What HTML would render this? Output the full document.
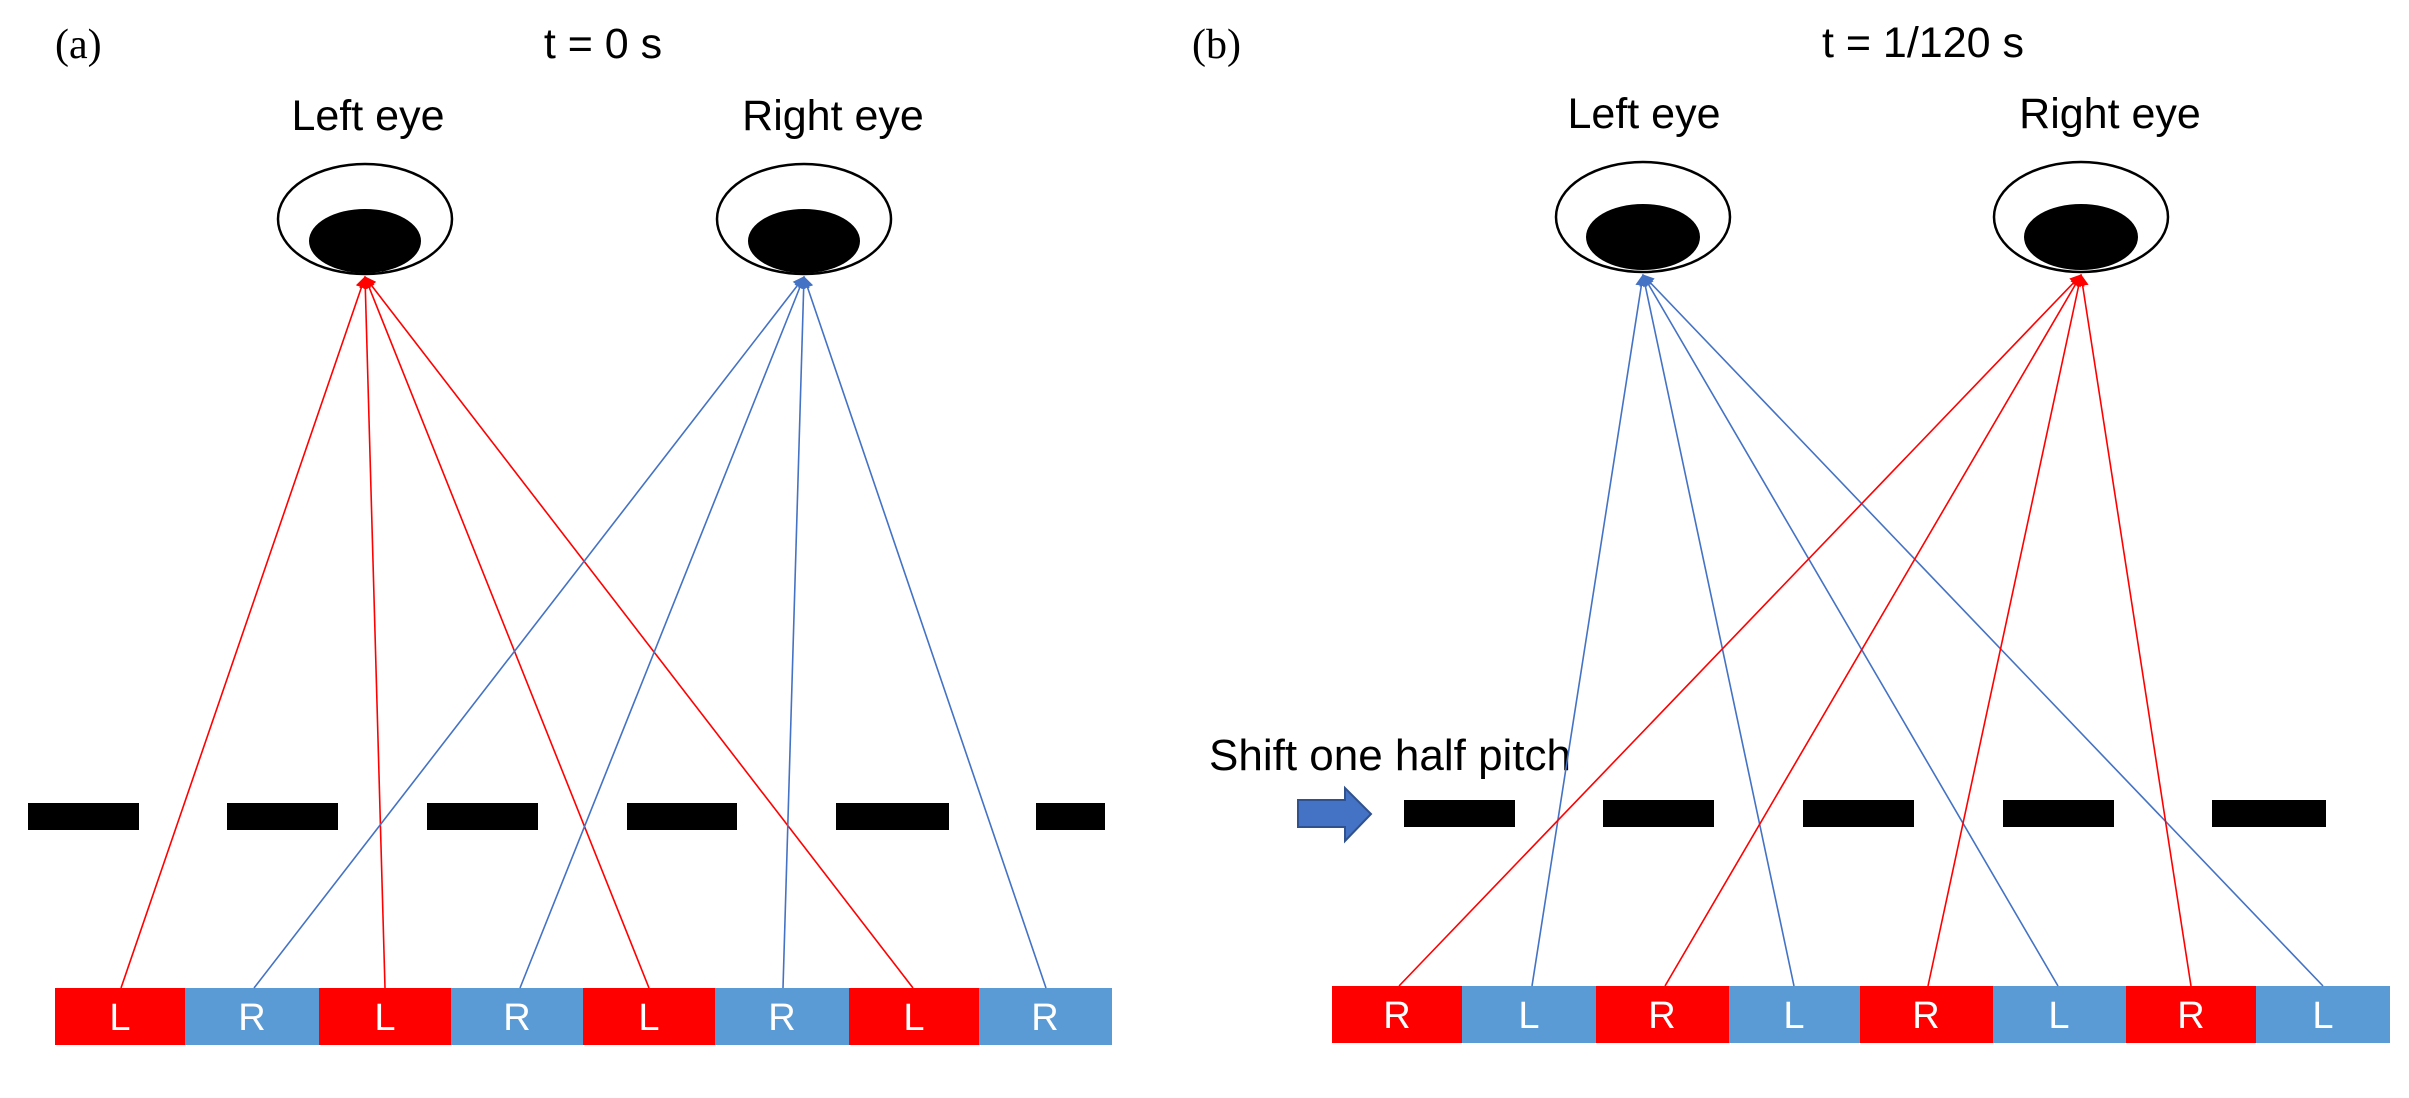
<!DOCTYPE html>
<html><head><meta charset="utf-8"><style>
html,body{margin:0;padding:0;background:#fff;}
svg{display:block;}
</style></head><body>
<svg width="2409" height="1098" viewBox="0 0 2409 1098" xmlns="http://www.w3.org/2000/svg">
<defs>
<marker id="mr" viewBox="0 0 10 10" refX="9" refY="5" markerWidth="12" markerHeight="12" markerUnits="userSpaceOnUse" orient="auto"><path d="M0,0 L10,5 L0,10 z" fill="#ff0000"/></marker>
<marker id="mb" viewBox="0 0 10 10" refX="9" refY="5" markerWidth="12" markerHeight="12" markerUnits="userSpaceOnUse" orient="auto"><path d="M0,0 L10,5 L0,10 z" fill="#4472c4"/></marker>
</defs>
<g font-family="Liberation Sans, Arial, sans-serif" fill="#000">
<text x="55" y="58" font-family="Liberation Serif, serif" font-size="42">(a)</text>
<text x="1192" y="58" font-family="Liberation Serif, serif" font-size="42">(b)</text>
<text x="603" y="58" font-size="43" text-anchor="middle">t = 0 s</text>
<text x="1923" y="57" font-size="43" text-anchor="middle">t = 1/120 s</text>
<text x="368" y="130" font-size="43" text-anchor="middle">Left eye</text>
<text x="833" y="130" font-size="43" text-anchor="middle">Right eye</text>
<text x="1644" y="128" font-size="43" text-anchor="middle">Left eye</text>
<text x="2110" y="128" font-size="43" text-anchor="middle">Right eye</text>
<text x="1209" y="770" font-size="44">Shift one half pitch</text>
</g>
<g stroke="#000" stroke-width="2.5" fill="#fff">
<ellipse cx="365" cy="219" rx="87" ry="55"/>
<ellipse cx="804" cy="219" rx="87" ry="55"/>
<ellipse cx="1643" cy="217" rx="87" ry="55"/>
<ellipse cx="2081" cy="217" rx="87" ry="55"/>
</g>
<g fill="#000">
<ellipse cx="365" cy="241" rx="56" ry="32"/>
<ellipse cx="804" cy="241" rx="56" ry="32"/>
<ellipse cx="1643" cy="237" rx="57" ry="33"/>
<ellipse cx="2081" cy="237" rx="57" ry="33"/>
</g>
<g fill="#000">
<rect x="28" y="803" width="111" height="27"/>
<rect x="227" y="803" width="111" height="27"/>
<rect x="427" y="803" width="111" height="27"/>
<rect x="627" y="803" width="110" height="27"/>
<rect x="836" y="803" width="113" height="27"/>
<rect x="1036" y="803" width="69" height="27"/>
<rect x="1404" y="800" width="111" height="27"/>
<rect x="1603" y="800" width="111" height="27"/>
<rect x="1803" y="800" width="111" height="27"/>
<rect x="2003" y="800" width="111" height="27"/>
<rect x="2212" y="800" width="114" height="27"/>
</g>
<path d="M1298,800 L1345,800 L1345,788 L1371,814 L1345,841 L1345,827 L1298,827 Z" fill="#4472c4" stroke="#2f528f" stroke-width="2"/>
<g>
<rect x="55" y="988" width="130" height="57" fill="#ff0000"/>
<rect x="185" y="988" width="134" height="57" fill="#5b9bd5"/>
<rect x="319" y="988" width="132" height="57" fill="#ff0000"/>
<rect x="451" y="988" width="132" height="57" fill="#5b9bd5"/>
<rect x="583" y="988" width="132" height="57" fill="#ff0000"/>
<rect x="715" y="988" width="134" height="57" fill="#5b9bd5"/>
<rect x="849" y="988" width="130" height="57" fill="#ff0000"/>
<rect x="979" y="988" width="133" height="57" fill="#5b9bd5"/>
<rect x="1332" y="986" width="130" height="57" fill="#ff0000"/>
<rect x="1462" y="986" width="134" height="57" fill="#5b9bd5"/>
<rect x="1596" y="986" width="133" height="57" fill="#ff0000"/>
<rect x="1729" y="986" width="131" height="57" fill="#5b9bd5"/>
<rect x="1860" y="986" width="133" height="57" fill="#ff0000"/>
<rect x="1993" y="986" width="133" height="57" fill="#5b9bd5"/>
<rect x="2126" y="986" width="130" height="57" fill="#ff0000"/>
<rect x="2256" y="986" width="134" height="57" fill="#5b9bd5"/>
</g>
<g font-family="Liberation Sans, Arial, sans-serif" font-size="38" fill="#fff" text-anchor="middle">
<text x="120" y="1030">L</text><text x="252" y="1030">R</text><text x="385" y="1030">L</text><text x="517" y="1030">R</text>
<text x="649" y="1030">L</text><text x="782" y="1030">R</text><text x="914" y="1030">L</text><text x="1045" y="1030">R</text>
<text x="1397" y="1028">R</text><text x="1529" y="1028">L</text><text x="1662" y="1028">R</text><text x="1794" y="1028">L</text>
<text x="1926" y="1028">R</text><text x="2059" y="1028">L</text><text x="2191" y="1028">R</text><text x="2323" y="1028">L</text>
</g>
<g stroke="#ff0000" stroke-width="1.6" fill="none">
<line x1="121" y1="988" x2="365" y2="277" marker-end="url(#mr)"/>
<line x1="385" y1="988" x2="365" y2="277" marker-end="url(#mr)"/>
<line x1="649" y1="988" x2="365" y2="277" marker-end="url(#mr)"/>
<line x1="913" y1="988" x2="365" y2="277" marker-end="url(#mr)"/>
</g>
<g stroke="#4472c4" stroke-width="1.6" fill="none">
<line x1="254" y1="988" x2="804" y2="277" marker-end="url(#mb)"/>
<line x1="520" y1="988" x2="804" y2="277" marker-end="url(#mb)"/>
<line x1="783" y1="988" x2="804" y2="277" marker-end="url(#mb)"/>
<line x1="1046" y1="988" x2="804" y2="277" marker-end="url(#mb)"/>
</g>
<g stroke="#4472c4" stroke-width="1.6" fill="none">
<line x1="1532" y1="986" x2="1643" y2="275" marker-end="url(#mb)"/>
<line x1="1794" y1="986" x2="1643" y2="275" marker-end="url(#mb)"/>
<line x1="2058" y1="986" x2="1643" y2="275" marker-end="url(#mb)"/>
<line x1="2323" y1="986" x2="1643" y2="275" marker-end="url(#mb)"/>
</g>
<g stroke="#ff0000" stroke-width="1.6" fill="none">
<line x1="1399" y1="986" x2="2081" y2="275" marker-end="url(#mr)"/>
<line x1="1665" y1="986" x2="2081" y2="275" marker-end="url(#mr)"/>
<line x1="1928" y1="986" x2="2081" y2="275" marker-end="url(#mr)"/>
<line x1="2191" y1="986" x2="2081" y2="275" marker-end="url(#mr)"/>
</g>
</svg>
</body></html>
